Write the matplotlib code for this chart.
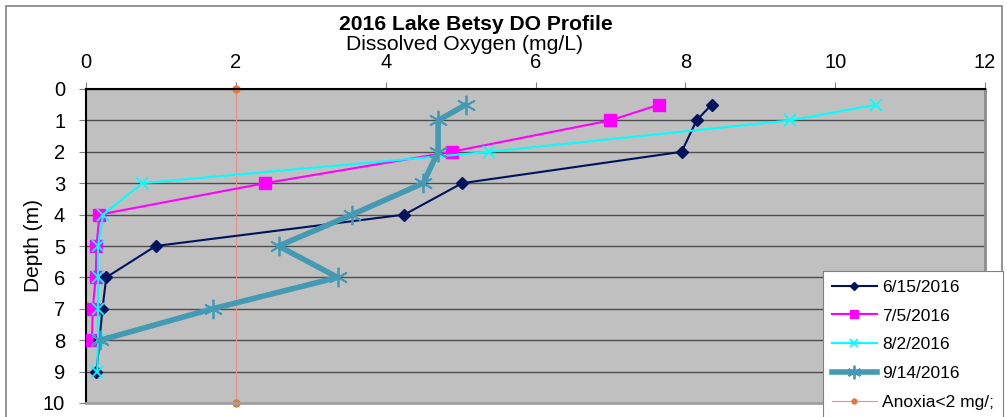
import matplotlib.pyplot as plt
import matplotlib.patches as patches

plt.rcParams['font.family'] = ['Liberation Sans', 'DejaVu Sans']

# Dissolved oxygen (mg/L) readings at each sampling depth (m)
depth_jun = [0.5, 1, 2, 3, 4, 5, 6, 7, 8, 9]
do_jun = [8.35, 8.15, 7.95, 5.02, 4.25, 0.93, 0.27, 0.22, 0.18, 0.14]

depth_jul = [0.5, 1, 2, 3, 4, 5, 6, 7, 8]
do_jul = [7.65, 7.0, 4.88, 2.39, 0.18, 0.14, 0.13, 0.09, 0.08]

depth_aug = [0.5, 1, 2, 3, 4, 5, 6, 7, 8, 9]
do_aug = [10.55, 9.4, 5.38, 0.75, 0.23, 0.16, 0.16, 0.16, 0.16, 0.15]

depth_sep = [0.5, 1, 2, 3, 4, 5, 6, 7, 8]
do_sep = [5.07, 4.70, 4.70, 4.50, 3.55, 2.57, 3.36, 1.69, 0.19]

anoxia_depth = [0, 10]
anoxia_do = [2, 2]

fig = plt.figure(figsize=(10.07, 4.17), dpi=100)
ax = fig.add_axes([86 / 1007, 1 - 403 / 417, 899 / 1007, 314 / 417])
ax.set_facecolor('#c0c0c0')

# outer chart border
fig.patches.append(patches.Rectangle((6 / 1007, -0.1), 996 / 1007, 1.1 - 6 / 417,
                                     transform=fig.transFigure, fill=False,
                                     edgecolor='#808080', linewidth=1.2, zorder=0))

for d in range(0, 11):
    ax.axhline(d, color='#4d4d4d', linewidth=1.0, zorder=1)

ax.plot(anoxia_do, anoxia_depth, color='#e8908a', linewidth=0.8, marker='o',
        markersize=5, markerfacecolor='#e07b39', markeredgecolor='#e07b39',
        label='Anoxia<2 mg/;', zorder=2, clip_on=False)
ax.plot(do_jun, depth_jun, color='#00135c', linewidth=1.5, marker='D',
        markersize=6, label='6/15/2016', zorder=4)
ax.plot(do_jul, depth_jul, color='#ff00ff', linewidth=1.5, marker='s',
        markersize=8, label='7/5/2016', zorder=3)
ax.plot(do_aug, depth_aug, color='#00ffff', linewidth=1.5, marker='x',
        markersize=9, markeredgewidth=1.3, label='8/2/2016', zorder=5)
ax.plot(do_sep, depth_sep, color='#4499b3', linewidth=4, marker=(6, 2, 0),
        markersize=14, markeredgewidth=1.3, label='9/14/2016', zorder=6)

ax.set_xlim(0, 12)
ax.set_ylim(10, 0)
ax.set_xticks(range(0, 13, 2))
ax.set_yticks(range(0, 11))
ax.xaxis.tick_top()
ax.tick_params(axis='both', labelsize=14.5, length=5, width=0.8, color='#808080')
ax.tick_params(axis='x', pad=7)
ax.tick_params(axis='y', pad=10)

ax.spines['top'].set_color('black')
ax.spines['top'].set_linewidth(1.5)
ax.spines['left'].set_color('black')
ax.spines['left'].set_linewidth(1.5)
ax.spines['right'].set_color('#8c8c8c')
ax.spines['right'].set_linewidth(2)
ax.spines['bottom'].set_color('#a0a0a0')
ax.spines['bottom'].set_linewidth(2)

ax.set_ylabel('Depth (m)', fontsize=15)
ax.yaxis.set_label_coords(-43 / 899, 0.5)

fig.text(476 / 1007, 1 - 30.5 / 417, '2016 Lake Betsy DO Profile', fontsize=15.2,
         fontweight='bold', ha='center', va='baseline')
fig.text(465 / 1007, 1 - 50 / 417, 'Dissolved Oxygen (mg/L)', fontsize=15.2,
         ha='center', va='baseline')

handles, labels = ax.get_legend_handles_labels()
order = [1, 2, 3, 4, 0]
leg = fig.legend([handles[i] for i in order], [labels[i] for i in order],
                 loc='upper left', bbox_to_anchor=(823 / 1007, 1 - 271 / 417),
                 fontsize=12.5, frameon=True, fancybox=False, framealpha=1,
                 edgecolor='#808080', handlelength=2.6, labelspacing=0.78,
                 borderpad=0.5, handletextpad=0.3, borderaxespad=0,
                 markerscale=0.7)
leg.get_frame().set_linewidth(0.8)

fig.savefig('out.png', dpi=100)
